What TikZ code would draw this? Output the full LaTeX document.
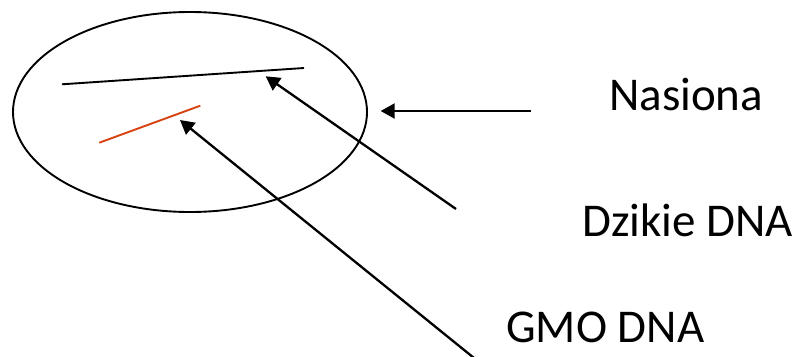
\documentclass[tikz,border=0pt]{standalone}
\usepackage{fontspec}
\setmainfont{Carlito}
\usetikzlibrary{arrows.meta}
\definecolor{gmored}{RGB}{214,66,18}
\begin{document}
\begin{tikzpicture}[x=1pt,y=-1pt,
  label/.style={anchor=base west,inner sep=0pt,font=\fontsize{47}{56}\selectfont},
  pointer/.style={line width=2.3pt,-{Triangle[length=14pt,width=15pt]}},
  strand/.style={line width=1.9pt}]
\useasboundingbox (0,0) rectangle (799,356);
% seed outline
\draw[line width=1.9pt] (190,112) ellipse [x radius=177, y radius=100];
% DNA strands inside the seed
\coordinate (wa) at (62,84.3);
\coordinate (wb) at (304,68);
\coordinate (ga) at (99.3,142.7);
\coordinate (gb) at (200.3,105.7);
\draw[strand] (wa) -- (wb);
\draw[strand,gmored] (ga) -- (gb);
% labels
\node[label] (nas) at (609,110) {Nasiona};
\node[label] (dzi) at (582,236.7) {Dzikie DNA};
\node[label] (gmo) at (506,342) {GMO DNA};
% arrow ends
\coordinate (nasT) at (531,111);
\coordinate (nasH) at (380.7,111);
\coordinate (dziT) at (456,209);
\coordinate (dziH) at (265.7,76.3);
\coordinate (gmoT) at (474,358);
\coordinate (gmoH) at (180,120);
\draw[pointer] (nasT) -- (nasH);
\draw[pointer] (dziT) -- (dziH);
\draw[pointer] (gmoT) -- (gmoH);
\end{tikzpicture}
\end{document}
